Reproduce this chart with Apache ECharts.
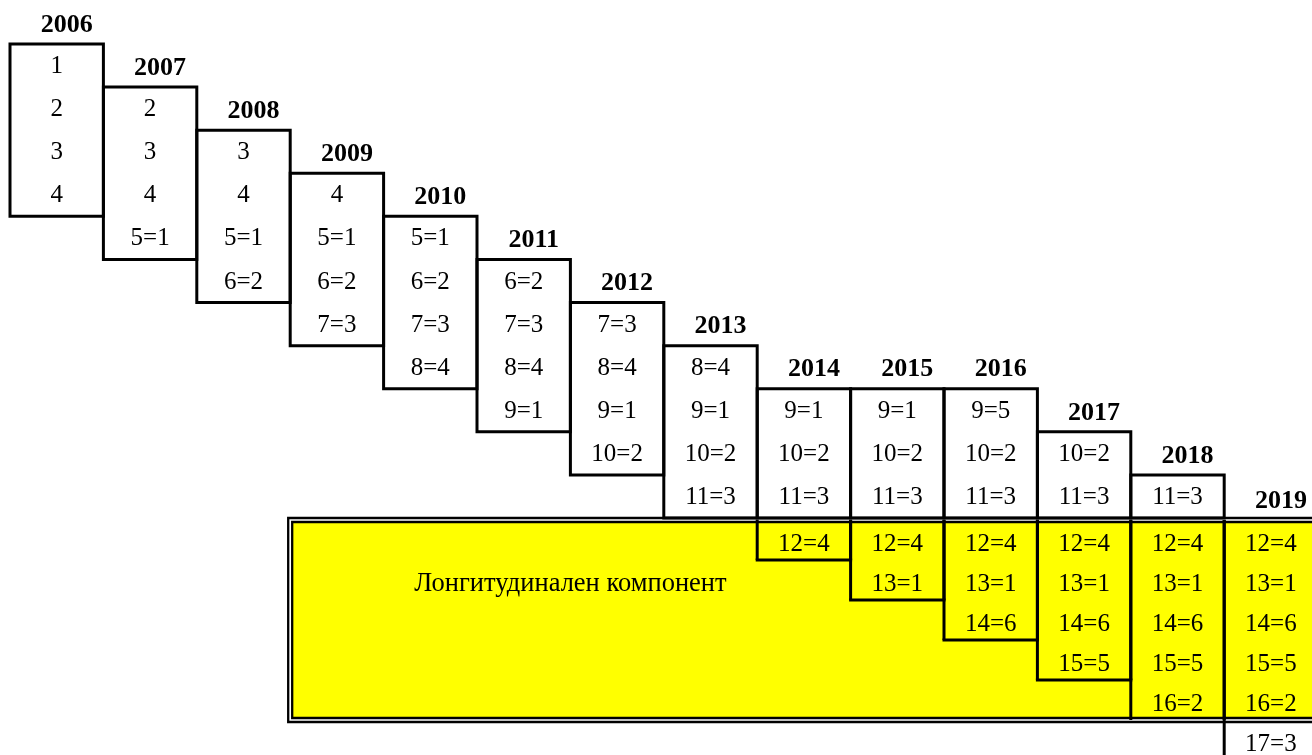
<!DOCTYPE html>
<html>
<head>
<meta charset="utf-8">
<script src="https://cdn.jsdelivr.net/npm/echarts@6/dist/echarts.min.js"></script>
<style>
html,body{margin:0;padding:0;background:#ffffff;}
#chart{width:1312px;height:755px;}
</style>
</head>
<body>
<div id="chart"></div>
<script>
// ---- data ----
const years = ['2006','2007','2008','2009','2010','2011','2012','2013','2014','2015','2016','2017','2018','2019'];
const firstRow = [1,2,3,4,5,6,7,8,9,9,9,10,11,12];
const cellLabels = [
  ['1','2','3','4'],
  ['2','3','4','5=1'],
  ['3','4','5=1','6=2'],
  ['4','5=1','6=2','7=3'],
  ['5=1','6=2','7=3','8=4'],
  ['6=2','7=3','8=4','9=1'],
  ['7=3','8=4','9=1','10=2'],
  ['8=4','9=1','10=2','11=3'],
  ['9=1','10=2','11=3','12=4'],
  ['9=1','10=2','11=3','12=4','13=1'],
  ['9=5','10=2','11=3','12=4','13=1','14=6'],
  ['10=2','11=3','12=4','13=1','14=6','15=5'],
  ['11=3','12=4','13=1','14=6','15=5','16=2'],
  ['12=4','13=1','14=6','15=5','16=2','17=3']
];
const componentLabel = 'Лонгитудинален компонент';
const componentFirstCol = 3;
const componentFirstRow = 12;
const componentLastRow = 16;
const lastRow = 17;

// ---- build segments ----
const FONT = '"Liberation Serif","Times New Roman",serif';
const upperSegs = [], lowerSegs = [];
years.forEach((y, i) => {
  const labs = cellLabels[i];
  const rows = labs.map((l, k) => firstRow[i] + k);
  const idx = rows.map((r, k) => k);
  const parts = [
    {grid: 0, kind: 'box', sel: idx.filter(k => rows[k] < componentFirstRow)},
    {grid: 1, kind: 'open', sel: idx.filter(k => rows[k] >= componentFirstRow && rows[k] <= componentLastRow)},
    {grid: 1, kind: 'open', sel: idx.filter(k => rows[k] > componentLastRow)}
  ];
  parts.forEach(p => {
    if (!p.sel.length) return;
    const seg = {
      col: i, r0: rows[p.sel[0]], r1: rows[p.sel[p.sel.length - 1]],
      labels: p.sel.map(k => labs[k]), kind: p.kind,
      header: rows[p.sel[0]] === firstRow[i] ? y : null
    };
    (p.grid === 0 ? upperSegs : lowerSegs).push(seg);
  });
});

const LINE = {stroke:'#000', lineWidth:3, fill:null};
function segRenderer(segs, textDy) {
  return function (params, api) {
    const s = segs[params.dataIndex];
    const tl = api.coord([s.col, s.r0 - 1]);
    const br = api.coord([s.col + 1, s.r1]);
    const children = [];
    if (s.kind === 'box') {
      children.push({type:'rect', shape:{x:tl[0], y:tl[1], width:br[0]-tl[0], height:br[1]-tl[1]}, style:LINE});
    } else {
      children.push({type:'line', shape:{x1:tl[0], y1:tl[1], x2:tl[0], y2:br[1]}, style:LINE});
      children.push({type:'line', shape:{x1:br[0], y1:tl[1], x2:br[0], y2:br[1]}, style:LINE});
      if (s.r1 !== componentLastRow) {
        children.push({type:'line', shape:{x1:tl[0]-1.5, y1:br[1], x2:br[0]+1.5, y2:br[1]}, style:LINE});
      }
    }
    s.labels.forEach((l, k) => {
      const c = api.coord([s.col + 0.5, s.r0 + k - 0.5]);
      children.push({type:'text', x:c[0], y:c[1] + textDy,
        style:{text:l, font:'25px ' + FONT, fill:'#000', align:'center', verticalAlign:'middle'}});
    });
    if (s.header) {
      const h = api.coord([s.col + 0.5, s.r0 - 1]);
      children.push({type:'text', x:h[0] + 10, y:h[1] - 19,
        style:{text:s.header, font:'bold 26px ' + FONT, fill:'#000', align:'center', verticalAlign:'middle'}});
    }
    return {type:'group', children};
  };
}

const compData = [[componentFirstCol, componentFirstRow, componentLastRow]];
function compRenderer(params, api) {
  const tl = api.coord([componentFirstCol, componentFirstRow - 1]);
  const br = api.coord([years.length, componentLastRow]);
  const lc = api.coord([(componentFirstCol + 9) / 2, componentFirstRow + 0.5]);
  return {type:'group', children:[
    {type:'rect', shape:{x:tl[0]-2, y:tl[1]-2, width:br[0]-tl[0]+6, height:br[1]-tl[1]+4},
      style:{fill:'#ffffff', stroke:'#000', lineWidth:2.3}},
    {type:'rect', shape:{x:tl[0]+2, y:tl[1]+2, width:br[0]-tl[0]-2, height:br[1]-tl[1]-4},
      style:{fill:'#ffff00', stroke:'#000', lineWidth:2.3}},
    {type:'text', x:lc[0], y:lc[1] + 4,
      style:{text:componentLabel, font:'26.5px ' + FONT, fill:'#000', align:'center', verticalAlign:'middle'}}
  ]};
}

const chart = echarts.init(document.getElementById('chart'), null, {renderer:'canvas'});
const colW = 93.4;
chart.setOption({
  animation: false,
  backgroundColor: '#ffffff',
  grid: [
    {left: 10, top: 44, width: colW * years.length, height: 474, outerBoundsMode: 'none', containLabel: false},
    {left: 10, top: 520, width: colW * years.length, height: 40 * (lastRow - componentFirstRow + 1), outerBoundsMode: 'none', containLabel: false}
  ],
  xAxis: [
    {type:'value', gridIndex:0, min:0, max:years.length, show:false},
    {type:'value', gridIndex:1, min:0, max:years.length, show:false}
  ],
  yAxis: [
    {type:'value', gridIndex:0, min:0, max:componentFirstRow - 1, inverse:true, show:false},
    {type:'value', gridIndex:1, min:componentFirstRow - 1, max:lastRow, inverse:true, show:false}
  ],
  series: [
    {type:'custom', xAxisIndex:1, yAxisIndex:1, z:1, silent:true, clip:false,
      data: compData, encode:{x:0, y:1}, renderItem: compRenderer},
    {type:'custom', xAxisIndex:0, yAxisIndex:0, z:2, silent:true, clip:false,
      data: upperSegs.map(s => [s.col, s.r0, s.r1]), encode:{x:0, y:1}, renderItem: segRenderer(upperSegs, 1)},
    {type:'custom', xAxisIndex:1, yAxisIndex:1, z:2, silent:true, clip:false,
      data: lowerSegs.map(s => [s.col, s.r0, s.r1]), encode:{x:0, y:1}, renderItem: segRenderer(lowerSegs, 4)}
  ]
});
</script>
</body>
</html>
